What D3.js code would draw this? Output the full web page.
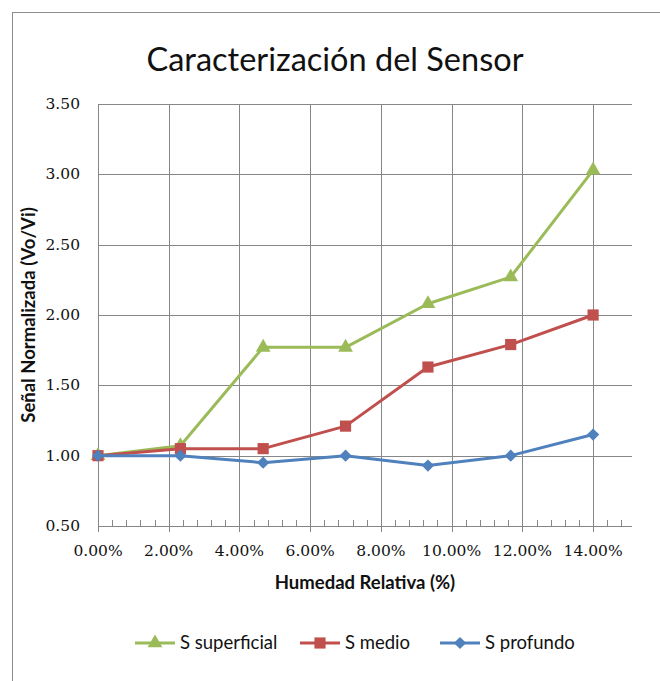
<!DOCTYPE html>
<html>
<head>
<meta charset="utf-8">
<script src="https://cdn.jsdelivr.net/npm/d3@7"></script>
<style>
  body { margin: 0; background: #fff; }
  text { fill: #111; }
</style>
</head>
<body>
<div id="chart"></div>
<script>
// humidity (fraction)
var humedad = [0, 0.0233, 0.0467, 0.07, 0.0933, 0.1167, 0.14]
var superficial = [1.00, 1.07, 1.77, 1.77, 2.08, 2.27, 3.03]
var medio = [1.00, 1.05, 1.05, 1.21, 1.63, 1.79, 2.00]
var profundo = [1.00, 1.00, 0.95, 1.00, 0.93, 1.00, 1.15]
var seriesNames = ['S superficial', 'S medio', 'S profundo']
var xTicks = [0, 0.02, 0.04, 0.06, 0.08, 0.10, 0.12, 0.14]
var yTicks = [0.5, 1.0, 1.5, 2.0, 2.5, 3.0, 3.5]

var series = [
  {name: seriesNames[0], values: superficial, color: '#9bbb59', shape: 'triangle'},
  {name: seriesNames[1], values: medio, color: '#c0504d', shape: 'square'},
  {name: seriesNames[2], values: profundo, color: '#4f81bd', shape: 'diamond'}
]

var W = 660, H = 681
var margin = {left: 98, top: 104, right: 28, bottom: 155}
var width = W - margin.left - margin.right   // 534
var height = H - margin.top - margin.bottom  // 422

var svg = d3.select('#chart').append('svg')
  .attr('width', W).attr('height', H)

// chart frame (only left & top visible in the shot)
svg.append('rect')
  .attr('x', 12.5).attr('y', 12.5)
  .attr('width', 700).attr('height', 700)
  .attr('fill', 'none').attr('stroke', '#8c8c8c')

var g = svg.append('g').attr('transform', 'translate(' + margin.left + ',' + margin.top + ')')

var x = d3.scaleLinear().domain([0, 0.151]).range([0, width])
var y = d3.scaleLinear().domain([0.5, 3.5]).range([height, 0])

var gridColor = '#878787'

// horizontal grid
g.append('g').selectAll('line').data(yTicks).join('line')
  .attr('x1', 0).attr('x2', width)
  .attr('y1', d => Math.round(y(d)) + 0.5).attr('y2', d => Math.round(y(d)) + 0.5)
  .attr('stroke', gridColor)

// vertical grid, runs a bit below the axis as the major tick
g.append('g').selectAll('line').data(xTicks).join('line')
  .attr('x1', d => Math.round(x(d)) + 0.5).attr('x2', d => Math.round(x(d)) + 0.5)
  .attr('y1', 0).attr('y2', height + 6)
  .attr('stroke', gridColor)

// minor ticks on x, pointing up
var minor = d3.range(0.004, 0.151, 0.004).filter(d => Math.abs(d / 0.02 - Math.round(d / 0.02)) > 1e-6)
g.append('g').selectAll('line').data(minor).join('line')
  .attr('x1', d => Math.round(x(d)) + 0.5).attr('x2', d => Math.round(x(d)) + 0.5)
  .attr('y1', height - 6).attr('y2', height)
  .attr('stroke', gridColor)

// axis lines
g.append('line').attr('x1', 0).attr('x2', width)
  .attr('y1', height + 0.5).attr('y2', height + 0.5).attr('stroke', gridColor)
g.append('line').attr('x1', 0.5).attr('x2', 0.5)
  .attr('y1', 0).attr('y2', height).attr('stroke', gridColor)

// tick labels
var tickFont = '"DejaVu Serif", serif'
g.append('g').selectAll('text').data(xTicks).join('text')
  .attr('x', d => x(d)).attr('y', height + 30)
  .attr('text-anchor', 'middle')
  .style('font-family', tickFont).style('font-size', '15.5px')
  .text(d3.format('.2%'))

g.append('g').selectAll('text').data(yTicks).join('text')
  .attr('x', -18).attr('y', d => y(d) + 5)
  .attr('text-anchor', 'end')
  .style('font-family', tickFont).style('font-size', '15.5px')
  .text(d3.format('.2f'))

// titles
var sans = 'Lato, "Open Sans", sans-serif'
svg.append('text')
  .attr('x', 335).attr('y', 71)
  .attr('text-anchor', 'middle')
  .style('font-family', sans).style('font-size', '32.5px')
  .text('Caracterización del Sensor')

svg.append('text')
  .attr('x', margin.left + width / 2).attr('y', 589)
  .attr('text-anchor', 'middle')
  .style('font-family', sans).style('font-size', '18.5px').style('font-weight', 'bold')
  .text('Humedad Relativa (%)')

svg.append('text')
  .attr('transform', 'translate(35,' + (margin.top + height / 2) + ') rotate(-90)')
  .attr('text-anchor', 'middle')
  .style('font-family', sans).style('font-size', '18.5px').style('font-weight', 'bold')
  .text('Señal Normalizada (Vo/Vi)')

// markers
function marker(sel, shape, color) {
  if (shape == 'triangle') {
    sel.append('path').attr('d', d3.symbol(d3.symbolTriangle, 95)()).attr('fill', color)
  } else if (shape == 'square') {
    sel.append('path').attr('d', d3.symbol(d3.symbolSquare, 125)()).attr('fill', color)
  } else {
    sel.append('path').attr('d', d3.symbol(d3.symbolSquare, 75)()).attr('fill', color)
      .attr('transform', 'rotate(45)')
  }
}

var line = d3.line()
  .x((d, i) => x(humedad[i]))
  .y(d => y(d))

series.forEach(function(s) {
  g.append('path')
    .attr('d', line(s.values))
    .attr('fill', 'none').attr('stroke', s.color)
    .attr('stroke-width', 3).attr('stroke-linejoin', 'round')
  s.values.forEach(function(v, i) {
    var m = g.append('g').attr('transform', 'translate(' + x(humedad[i]) + ',' + y(v) + ')')
    marker(m, s.shape, s.color)
  })
})

// legend
var legendX = [135, 300, 440]
var legend = svg.append('g').attr('transform', 'translate(0,643)')
series.forEach(function(s, i) {
  var lg = legend.append('g').attr('transform', 'translate(' + legendX[i] + ',0)')
  lg.append('line').attr('x1', 0).attr('x2', 40)
    .attr('stroke', s.color).attr('stroke-width', 3)
  marker(lg.append('g').attr('transform', 'translate(20,0)'), s.shape, s.color)
  lg.append('text').attr('x', 45).attr('y', 6)
    .style('font-family', sans).style('font-size', '18.5px')
    .text(s.name)
})
</script>
</body>
</html>
